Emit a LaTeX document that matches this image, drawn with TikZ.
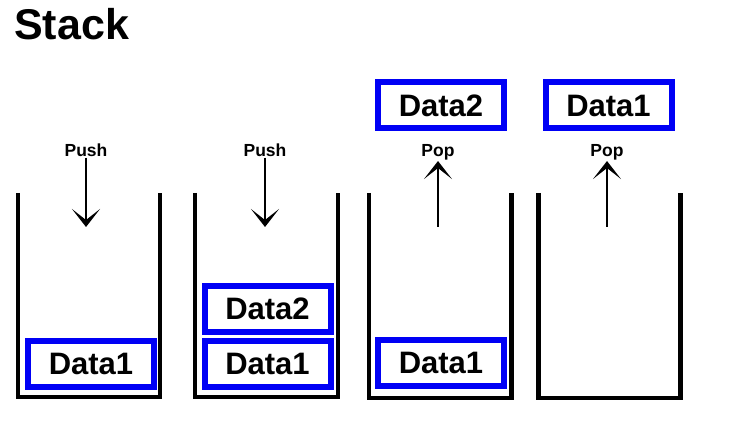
\documentclass[tikz,border=0pt]{standalone}
\usepackage{fontspec}
\setmainfont{Liberation Sans}
\usepackage{xcolor}
\usepackage{tikz}
\usetikzlibrary{arrows.meta, positioning}
\definecolor{BoxBlue}{HTML}{0000F5}
\definecolor{Ink}    {HTML}{000000}

\tikzset{
  databox/.style={draw=BoxBlue, line width=6pt, minimum width=126pt,
                  minimum height=46pt, inner sep=0pt, font=\fontsize{31}{32}\selectfont\bfseries, text=Ink},
  oplabel/.style={font=\fontsize{17.5}{18}\selectfont\bfseries, text=Ink, inner sep=1pt},
  opArrow/.style={line width=2.6pt, -{Stealth[length=18pt, width=28pt, inset=11pt]}},
  container/.style={draw=Ink, line width=4.5pt, line join=miter}
}

\begin{document}
\begin{tikzpicture}[x=1pt, y=-1pt]
  \useasboundingbox (0,0) rectangle (732,422);
  \node[anchor=base west, font=\fontsize{43}{44}\selectfont\bfseries, inner sep=0pt] (title) at (14,40) {Stack};
  % Stack 1: push Data1
  \draw[container] (18,193) -- (18,397) -- (160,397) -- (160,193);
  \node[databox] (s1d1) at (91,364) {Data1};
  \node[oplabel] (push1) at (86,150) {Push};
  \coordinate (in1) at (86,227);
  \draw[opArrow] (push1.south) -- (in1);
  % Stack 2: push Data2
  \draw[container] (195,193) -- (195,397) -- (338,397) -- (338,193);
  \node[databox] (s2d1) at (267.5,364) {Data1};
  \node[databox] (s2d2) at (267.5,309) {Data2};
  \node[oplabel] (push2) at (265,150) {Push};
  \coordinate (in2) at (265,227);
  \draw[opArrow] (push2.south) -- (in2);
  % Stack 3: pop Data2
  \draw[container] (369,193) -- (369,398) -- (511.5,398) -- (511.5,193);
  \node[databox] (s3d1) at (441,363) {Data1};
  \node[databox] (s3d2) at (441,105.5) {Data2};
  \node[oplabel] (pop3) at (438,152) {Pop};
  \coordinate (out3) at (438,227);
  \draw[opArrow] (out3) -- (pop3.south);
  % Stack 4: pop Data1
  \draw[container] (538.5,193) -- (538.5,398) -- (680.5,398) -- (680.5,193);
  \node[databox] (s4d1) at (608.5,105.5) {Data1};
  \node[oplabel] (pop4) at (607,152) {Pop};
  \coordinate (out4) at (607,227);
  \draw[opArrow] (out4) -- (pop4.south);
\end{tikzpicture}
\end{document}
